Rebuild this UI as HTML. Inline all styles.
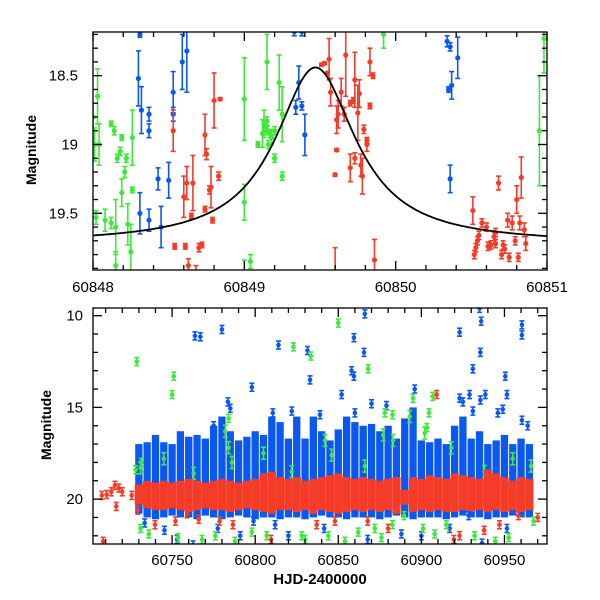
<!DOCTYPE html>
<html><head><meta charset="utf-8"><style>
html,body{margin:0;padding:0;background:#fff}
svg{display:block}
text{font-family:"Liberation Sans",sans-serif;fill:#000}
</style></head><body>
<svg id="chart" width="600" height="600" viewBox="0 0 600 600">
<defs>
<clipPath id="clipTop"><rect x="93" y="32" width="454" height="238"/></clipPath>
<clipPath id="clipBot"><rect x="93" y="308" width="454" height="236"/></clipPath>
</defs>
<g id="topPanel"></g>
<g id="botPanel"></g>
</svg>
<script>
// ---------- TOP PANEL DATA ----------
const topGreenT=[60848.0,60848.01,60848.03,60848.04,60848.02,60848.12,60848.08,60848.12,60848.14,60848.16,60848.15,60848.15,60848.18,60848.19,60848.21,60848.19,60848.22,60848.23,60848.26,60848.26,60848.25,60849.0,60849.0,60849.0,60849.04,60849.09,60849.12,60849.13,60849.15,60849.14,60849.18,60849.17,60849.2,60849.16,60849.15,60849.15,60849.2,60849.23,60849.25,60849.25,60849.92,60850.95,60850.98];
const topGreenM=[18.8,19.0,18.65,19.0,19.53,19.57,19.55,18.85,18.9,19.1,19.6,19.88,19.05,18.95,19.2,19.35,19.1,19.58,19.33,18.95,19.78,18.67,19.42,19.94,19.85,19.0,18.92,18.85,18.83,18.87,18.95,18.92,18.9,19.0,18.9,18.4,19.1,18.55,18.78,19.23,18.2,18.9,18.23];
const topGreenE=[0.1,0.12,0.2,0.15,0.05,0.04,0.08,0.02,0.03,0.03,0.2,0.1,0.03,0.02,0.04,0.1,0.03,0.15,0.02,0.2,0.2,0.3,0.13,0.1,0.05,0.02,0.1,0.1,0.03,0.03,0.05,0.03,0.03,0.03,0.03,0.2,0.03,0.2,0.2,0.03,0.1,0.4,0.25];
const topBlueT=[60848.31,60848.3,60848.32,60848.37,60848.37,60848.43,60848.5,60848.53,60848.53,60848.59,60848.62,60848.31,60848.37,60848.45,60849.34,60849.36,60849.38,60849.4,60850.35,60850.34,60850.36,60850.37,60850.41,60850.36,60849.33,60849.38];
const topBlueM=[18.2,18.52,18.75,18.78,18.9,19.25,19.26,18.62,18.78,18.4,18.32,19.5,19.55,19.6,18.73,18.55,18.72,18.93,18.6,18.25,18.29,18.57,18.37,19.25,18.18,18.18];
const topBlueE=[0.02,0.2,0.17,0.05,0.05,0.08,0.13,0.15,0.05,0.2,0.3,0.15,0.08,0.15,0.05,0.12,0.03,0.15,0.02,0.04,0.03,0.1,0.15,0.1,0.03,0.03];
const topRedT=[60848.53,60848.54,60848.6,60848.62,60848.61,60848.63,60848.65,60848.66,60848.68,60848.7,60848.72,60848.74,60848.74,60848.75,60848.77,60848.78,60848.79,60848.8,60848.83,60848.84,60849.51,60849.53,60849.55,60849.56,60849.57,60849.6,60849.61,60849.61,60849.62,60849.64,60849.66,60849.67,60849.7,60849.7,60849.72,60849.73,60849.73,60849.75,60849.77,60849.78,60849.76,60849.81,60849.79,60849.81,60849.83,60849.83,60849.85,60849.86,60849.6,60850.51,60850.52,60850.53,60850.54,60850.55,60850.57,60850.6,60850.61,60850.63,60850.65,60850.66,60850.68,60850.7,60850.71,60850.72,60850.74,60850.75,60850.77,60850.79,60850.8,60850.81,60850.82,60850.83,60850.85,60850.86,60850.66];
const topRedM=[18.9,19.74,19.38,19.28,19.74,19.88,19.52,19.28,19.93,19.75,19.73,19.47,18.93,19.07,19.33,19.31,19.55,18.68,19.23,18.67,18.42,18.41,18.48,18.38,18.62,19.22,19.04,18.82,18.78,18.62,18.78,18.35,18.7,19.17,18.68,18.53,19.1,18.77,19.15,19.23,18.63,19.0,18.89,18.97,18.72,18.4,18.5,19.84,19.95,19.48,19.8,19.75,19.7,19.66,19.57,19.6,19.74,19.73,19.67,19.72,19.28,19.8,19.73,19.76,19.55,19.82,19.57,19.7,19.4,19.82,19.57,19.24,19.62,19.72,19.64];
const topRedE=[0.15,0.02,0.15,0.12,0.02,0.05,0.02,0.2,0.05,0.03,0.02,0.02,0.15,0.04,0.03,0.15,0.02,0.2,0.03,0.01,0.01,0.01,0.01,0.15,0.1,0.01,0.01,0.1,0.1,0.1,0.05,0.3,0.02,0.1,0.02,0.2,0.04,0.2,0.08,0.13,0.1,0.05,0.03,0.02,0.02,0.1,0.02,0.15,0.2,0.1,0.03,0.03,0.03,0.03,0.03,0.03,0.03,0.03,0.03,0.03,0.05,0.03,0.03,0.03,0.05,0.03,0.05,0.03,0.1,0.03,0.05,0.15,0.05,0.05,0.03];
const modelBase=19.72, modelAmp=1.28, modelT0=60849.47, modelW=0.323;
const topXTicks=[60848,60849,60850,60851];
const topYTicks=[18.5,19,19.5];

// ---------- BOTTOM PANEL DATA ----------
const binT=[60730,60735,60740,60745,60750,60755,60760,60765,60770,60775,60780,60785,60790,60795,60800,60805,60810,60815,60820,60825,60830,60835,60840,60845,60850,60855,60860,60865,60870,60875,60880,60885,60890,60895,60900,60905,60910,60915,60920,60925,60930,60935,60940,60945,60950,60955,60960,60965];
const blueTop=[17.0,16.9,16.5,16.9,17.0,16.3,16.6,16.5,16.7,16.0,15.5,16.3,16.8,16.6,16.3,16.5,15.5,15.8,16.7,15.5,16.7,15.5,16.3,16.8,16.2,15.5,15.8,16.0,15.9,16.3,16.0,16.7,15.6,15.0,16.8,16.9,16.7,17.0,16.0,15.5,16.7,16.3,17.0,16.8,16.5,17.0,16.7,17.0];
const blueBot=[20.8,21.0,21.1,21.0,20.9,21.0,21.0,21.1,20.9,21.0,21.1,21.0,20.9,21.0,21.1,21.0,21.0,21.1,21.0,21.0,21.1,21.0,20.9,21.0,21.0,21.1,21.0,21.0,21.0,21.1,21.0,20.9,21.0,21.1,21.0,21.0,21.0,21.1,21.0,20.9,21.0,21.0,21.1,21.0,21.0,20.9,21.0,21.0];
const redTop=[19.2,19.0,19.1,19.0,19.1,19.0,18.9,19.0,19.1,19.0,18.9,19.0,19.1,19.0,18.9,18.6,18.5,18.8,18.9,18.8,19.0,18.9,18.8,18.7,18.6,18.8,18.9,18.8,18.9,19.0,18.9,18.8,19.5,18.8,18.9,18.7,18.8,18.9,18.6,18.7,18.8,18.9,18.4,18.6,18.8,19.0,18.8,18.9];
const redBot=[20.3,20.5,20.6,20.6,20.5,20.6,20.7,20.6,20.5,20.6,20.6,20.7,20.6,20.5,20.6,20.7,20.8,20.6,20.6,20.7,20.6,20.8,20.6,20.7,20.8,20.7,20.6,20.7,20.6,20.7,20.6,20.8,20.3,20.7,20.6,20.7,20.6,20.7,20.7,20.6,20.7,20.6,20.7,20.6,20.7,20.6,20.7,20.6];
const greenBandT=[60731,60745,60763,60782,60784,60786,60805,60822,60842,60846,60866,60877,60883,60893,60902,60918,60938,60955,60966];
const greenBandM=[18.3,17.8,18.6,16.3,17.2,18.0,17.5,18.5,16.8,17.6,18.2,16.5,16.8,15.5,16.4,17.2,18.5,17.8,18.2];
const bOutT=[60763.7,60767,60780,60798,60814,60831.5,60833,60852,60859.4,60858,60859.4,60865.5,60866,60896,60923,60931,60935,60936,60935.5,60938.5,60950.5,60951.5,60960.5,60960.5,60929,60923,60925,60931,60946,60949,60960.5,60964,60935.5,60783.6,60785,60810.6,60822,60870,60879,60860,60839,60775,60733.5,60745.4,60753,60762.6,60777.5,60791,60799,60812,60820,60841.5,60867.7,60888,60900,60917,60928.5,60936.5,60951.5];
const bOutM=[11.1,11.15,10.75,13.9,11.6,11.9,13.5,14.3,11.2,13.0,13.3,12.0,9.9,14.0,10.9,12.9,9.6,10.3,12.0,14.3,13.3,14.3,10.5,11.05,14.3,14.5,14.7,15.2,15.3,15.1,15.7,16.0,14.6,14.7,15.05,15.3,15.2,14.8,14.9,15.3,15.4,16.0,21.3,21.7,22.2,22.5,21.6,22.0,21.2,21.4,22.0,21.6,22.2,21.9,22.0,21.6,20.9,22.4,21.6];
const gOutT=[60728.7,60751,60750,60823,60833.5,60850,60868,60895,60906.8,60878,60882.6,60904.6,60903.3,60784,60728,60731.5,60731,60736,60753.5,60768,60776,60787.8,60798,60807,60828,60830,60844,60854,60862,60872,60876,60882.6,60889.6,60901,60908,60915,60932,60944.5,60952.5,60967.5];
const gOutM=[12.5,13.3,14.3,11.7,12.2,10.4,12.9,14.5,14.4,15.3,15.4,15.3,16.1,15.6,18.4,18.0,21.6,21.9,22.1,22.2,22.0,22.3,21.8,22.0,22.0,22.2,22.0,22.3,21.8,21.6,22.1,21.4,20.9,21.6,21.9,21.4,22.0,22.3,22.1,21.2];
const rOutT=[60707.7,60710.6,60713.4,60715.6,60718,60716.4,60708.5,60720,60725.7,60729.4,60739.7,60752,60759,60766,60778.6,60786.6,60809.5,60837,60848,60867.7,60880,60909.2,60919.5,60923,60937.8,60947,60958.4,60970];
const rOutM=[19.8,19.75,19.6,19.25,19.4,20.4,22.3,19.6,19.8,20.6,21.4,21.2,20.8,21.1,21.2,21.4,22.2,21.4,21.2,21.2,21.6,14.3,22.2,22.0,21.7,21.4,20.9,21.0];
const botXTicks=[60750,60800,60850,60900,60950];
const botYTicks=[10,15,20];

// ---------- HELPERS ----------
const NS="http://www.w3.org/2000/svg";
const BLUE="#0b58f0", RED="#f53c28", GREEN="#3fe83a";
function mk(tag,attrs,parent){const e=document.createElementNS(NS,tag);for(const k in attrs)e.setAttribute(k,attrs[k]);parent.appendChild(e);return e;}
const X0=93,X1=547;
const tx=t=>X0+(t-60848)/3*(X1-X0);
const ty=m=>75.7+(m-18.5)*137.6;
const bx=t=>X0+(t-60702.4)/(60975.6-60702.4)*(X1-X0);
const by=m=>315.7+(m-10)*18.34;

function errPoint(parent,x,y,ey,col,r){
  const g=mk('g',{},parent);
  
  
  mk('line',{x1:x,x2:x,y1:y-ey,y2:y+ey,stroke:col,'stroke-width':1.6},g);
  mk('line',{x1:x-2.5,x2:x+2.5,y1:y-ey,y2:y-ey,stroke:col,'stroke-width':1.6},g);
  mk('line',{x1:x-2.5,x2:x+2.5,y1:y+ey,y2:y+ey,stroke:col,'stroke-width':1.6},g);
  mk('circle',{cx:x,cy:y,r:r,fill:col},g);
}
function drawFrame(parent,y0,y1,xmaj,xmin,xr,yt,ymin,yr,xf,yf){
  const g=mk('g',{stroke:'#000','stroke-width':1.3,fill:'none'},parent);
  
  
  mk('rect',{x:X0,y:y0,width:X1-X0,height:y1-y0},g);
  for(let v=xr[0];v<=xr[1]+1e-9;v+=xmin){const x=xf(v);if(x<X0-0.5||x>X1+0.5)continue;
    const maj=Math.abs(v/xmaj-Math.round(v/xmaj))<1e-6;const L=maj?9:5;
    mk('line',{x1:x,x2:x,y1:y1,y2:y1-L},g);mk('line',{x1:x,x2:x,y1:y0,y2:y0+L},g);}
  for(let v=yr[0];v<=yr[1]+1e-9;v+=ymin){const y=yf(v);if(y<y0||y>y1)continue;
    const maj=yt.some(t=>Math.abs(t-v)<1e-6);const L=maj?9:5;
    mk('line',{x1:X0,x2:X0+L,y1:y,y2:y},g);mk('line',{x1:X1,x2:X1-L,y1:y,y2:y},g);}
}

// ---------- TOP ----------
const topG=document.getElementById('topPanel');
const tp=mk('g',{'clip-path':'url(#clipTop)'},topG);


topGreenT.forEach((t,i)=>errPoint(tp,tx(t),ty(topGreenM[i]),topGreenE[i]*137.6,GREEN,2.6));
topBlueT.forEach((t,i)=>errPoint(tp,tx(t),ty(topBlueM[i]),topBlueE[i]*137.6,BLUE,2.6));
topRedT.forEach((t,i)=>errPoint(tp,tx(t),ty(topRedM[i]),topRedE[i]*137.6,RED,2.6));
let d='';
for(let t=60848;t<=60851.0001;t+=0.01){const m=modelBase-modelAmp/(1+Math.pow((t-modelT0)/modelW,2));d+=(d?'L':'M')+tx(t).toFixed(1)+' '+ty(m).toFixed(1);}
const modelPath=mk('path',{d:d,fill:'none',stroke:'#000','stroke-width':1.8},tp);


drawFrame(topG,32,270,1,0.2,[60848,60851],topYTicks,0.1,[18.2,19.9],tx,ty);
topXTicks.forEach(v=>{const e=mk('text',{x:tx(v),y:292,'text-anchor':'middle','font-size':15},topG);e.textContent=v;
  
  });
topYTicks.forEach(v=>{const e=mk('text',{x:78,y:ty(v)+5,'text-anchor':'end','font-size':15},topG);e.textContent=v;
  
  });
const tyl=mk('text',{x:0,y:0,transform:'translate(36,150) rotate(-90)','text-anchor':'middle','font-size':14,'font-weight':'bold'},topG);
tyl.textContent='Magnitude';



// ---------- BOTTOM ----------
const botG=document.getElementById('botPanel');
const bp=mk('g',{'clip-path':'url(#clipBot)'},botG);


const bw=bx(60735)-bx(60730);
binT.forEach((t,i)=>{const r=mk('rect',{x:bx(t)-bw/2+0.5,y:by(blueTop[i]),width:bw-1,height:by(blueBot[i])-by(blueTop[i]),fill:BLUE},bp);
  
  });
greenBandT.forEach((t,i)=>errPoint(bp,bx(t),by(greenBandM[i]),6,GREEN,2.2));
binT.forEach((t,i)=>{const r=mk('rect',{x:bx(t)-bw/2,y:by(redTop[i]),width:bw,height:by(redBot[i])-by(redTop[i]),fill:RED},bp);
  
  });
bOutT.forEach((t,i)=>errPoint(bp,bx(t),by(bOutM[i]),4,BLUE,2.3));
gOutT.forEach((t,i)=>errPoint(bp,bx(t),by(gOutM[i]),4,GREEN,2.3));
rOutT.forEach((t,i)=>errPoint(bp,bx(t),by(rOutM[i]),4,RED,2.3));
drawFrame(botG,308,544,50,10,[60710,60970],botYTicks,1,[10,22],bx,by);
botXTicks.forEach(v=>{const e=mk('text',{x:bx(v),y:565,'text-anchor':'middle','font-size':15},botG);e.textContent=v;
  
  });
botYTicks.forEach(v=>{const e=mk('text',{x:83,y:by(v)+5,'text-anchor':'end','font-size':15},botG);e.textContent=v;
  
  });
const byl=mk('text',{x:0,y:0,transform:'translate(51,425) rotate(-90)','text-anchor':'middle','font-size':14,'font-weight':'bold'},botG);
byl.textContent='Magnitude';


const bxl=mk('text',{x:320,y:584,'text-anchor':'middle','font-size':15,'font-family':'Liberation Mono, monospace','font-weight':'bold'},botG);
bxl.textContent='HJD-2400000';


</script>
</body></html>
